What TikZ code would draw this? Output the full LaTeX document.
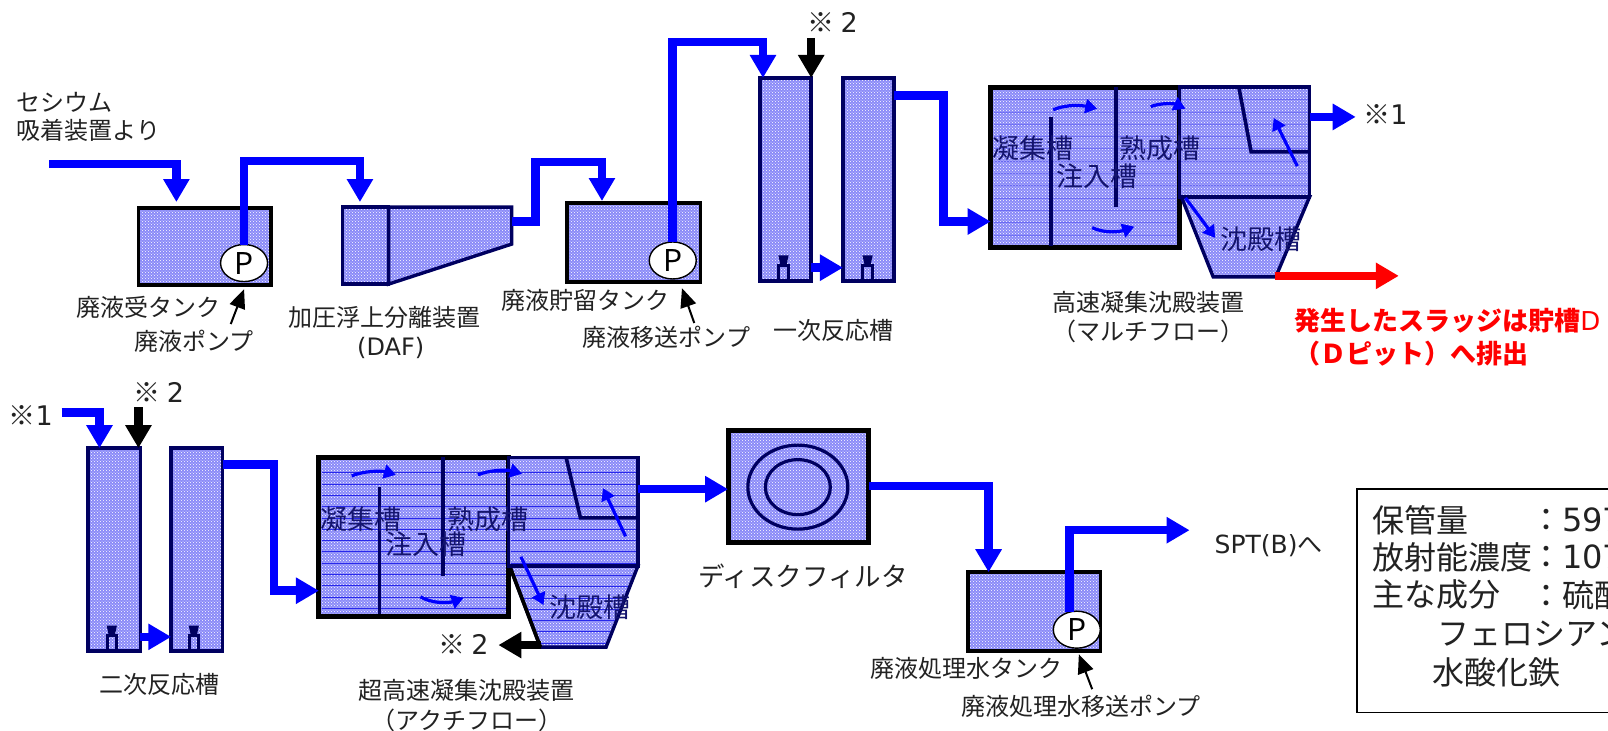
\documentclass[tikz,border=0pt]{standalone}
\usepackage{fontspec}
\setmainfont{Noto Sans CJK JP}
\newfontfamily\lat{DejaVu Sans}
\usetikzlibrary{arrows.meta,fit,shapes.geometric,calc,patterns}
\newcommand{\fs}[1]{\fontsize{#1}{#1}\selectfont}
\definecolor{liq}{RGB}{138,138,248}
\definecolor{navy}{RGB}{0,0,96}
\definecolor{tx}{RGB}{34,34,34}
\definecolor{inktx}{RGB}{20,20,110}
\definecolor{hline}{RGB}{40,40,235}
\tikzset{
  dith/.style={preaction={fill=liq},pattern=crosshatch dots,pattern color=white},
  tank/.style={draw=black,dith,line width=3.6pt,inner sep=0pt,outer sep=0pt,rectangle},
  navytank/.style={tank,draw=navy},
  bigtank/.style={tank,line width=5pt},
  pumpnode/.style={ellipse,draw=black,fill=white,line width=1.4pt,minimum width=47pt,minimum height=37pt,inner sep=0pt,outer sep=0pt,font=\fs{30}},
  pipe/.style={draw=blue,line width=8.5pt,-{Triangle[length=23pt,width=25pt]},miter limit=10},
  blackpipe/.style={draw=black,line width=8.5pt,-{Triangle[length=23pt,width=25pt]}},
  redpipe/.style={draw=red,line width=8.5pt,-{Triangle[length=23pt,width=25pt]}},
  inner/.style={draw=blue,line width=3.2pt,-{Triangle[length=12pt,width=14pt]}},
  lead/.style={draw=black,line width=2pt,-{Triangle[length=19pt,width=16pt]}},
  baffle/.style={draw=navy,line width=3.6pt},
  wall/.style={draw=navy,line width=3.4pt,dith},
  lab/.style={font=\fs{24},text=tx,inner sep=0pt},
  inlab/.style={font=\fs{27},text=inktx,inner sep=0pt},
  refmark/.style={font=\fs{27},text=tx,inner sep=0pt},
  info/.style={font=\fs{32},text=tx,inner sep=0pt,anchor=west},
  redlab/.style={font=\bfseries\fs{26},text=red,inner sep=0pt,anchor=west},
  ring/.style={ellipse,draw=navy,line width=3.2pt,inner sep=0pt},
}
\newcommand{\mixer}[2]{%
  \fill[navy] (#1-5,#2-13) -- (#1+5,#2-13) -- (#1+3,#2-4) -- (#1-3,#2-4) -- cycle;
  \draw[navy,line width=3pt] (#1-4.5,#2+11) -- (#1-4.5,#2-3) -- (#1+4.5,#2-3) -- (#1+4.5,#2+11);
}
\begin{document}
\begin{tikzpicture}[x=1.0255pt,y=-1.0255pt]
\useasboundingbox (0,0) rectangle (1568,712);
\clip (0,0) rectangle (1568,712);
% --- row 1 tanks
\node[tank,fit={(135,203)(264,278)}] (t1) {};
\node[pumpnode] (p1) at (238,256.5) {P};
\node[navytank,fit={(334,202)(379,277)}] (dafa) {};
\draw[wall,line join=miter] (379,202) -- (499,202) -- (499,238) -- (379,277) -- cycle;
\coordinate (dafout) at (499,216);
\node[tank,fit={(553,198)(683,275)}] (t2) {};
\node[pumpnode] (p2) at (656,254) {P};
\node[navytank,fit={(741,76)(791,274)}] (r1) {};
\node[navytank,fit={(822,76)(872,274)}] (r2) {};
\mixer{764}{262}\mixer{846}{262}
% multiflow
\node[bigtank,fit={(966,85)(1150,241)}] (mf) {};
\foreach \yy in {97,109,...,238}{\draw[hline,opacity=.35,line width=.5pt] (969,\yy) -- (1147,\yy);}
\draw[baffle] (1025,114) -- (1025,240);
\draw[baffle] (1088,85) -- (1088,202);
\draw[wall] (1152,192) -- (1277,192) -- (1244,270) -- (1183,270) -- cycle;
\node[navytank,fit={(1150,85)(1277,192)}] (mfr) {};
\foreach \yy in {97,109,...,190}{\draw[hline,opacity=.35,line width=.5pt] (1152,\yy) -- (1275,\yy);}
\draw[baffle] (1208,85) -- (1220,148) -- (1277,148);
\draw[inner] (1027,107) .. controls (1042,101) and (1056,103) .. (1070,106);
\draw[inner] (1122,104) .. controls (1132,100) and (1145,101) .. (1156,106);
\draw[inner] (1065,222) .. controls (1078,228) and (1092,226) .. (1106,221);
\draw[inner] (1265,162) -- (1242,115);
\draw[inner] (1156,193) -- (1185,232);
% --- row 2 tanks
\node[navytank,fit={(86,437)(137,635)}] (r3) {};
\node[navytank,fit={(167,437)(217,635)}] (r4) {};
\mixer{109}{623}\mixer{189}{623}
\node[bigtank,fit={(311,446)(496,601)}] (af) {};
\foreach \yy in {461,472,...,598}{\draw[hline,line width=.7pt] (314,\yy) -- (493,\yy);}
\draw[baffle] (370,475) -- (370,599);
\draw[baffle] (432,446) -- (432,562);
\draw[wall] (497,552) -- (622,552) -- (591,631) -- (527,631) -- cycle;
\draw[black,line width=3.6pt] (497,552) -- (527,631);
\node[navytank,fit={(496,446)(622,552)}] (afr) {};
\foreach \yy in {461,472,...,550}{\draw[hline,line width=.7pt] (498,\yy) -- (620,\yy);}
\foreach \yy in {561,572,...,628}{\draw[hline,line width=.7pt] ({499+(\yy-552)*.38},\yy) -- ({620-(\yy-552)*.39},\yy);}
\draw[baffle] (552,446) -- (566,505) -- (622,505);
\draw[inner] (343,464) .. controls (355,459) and (372,459) .. (386,463);
\draw[inner] (466,463) .. controls (478,458) and (495,458) .. (509,462);
\draw[inner] (410,582) .. controls (422,589) and (438,588) .. (452,583);
\draw[inner] (610,523) -- (588,476);
\draw[inner] (508,543) -- (530,590);
\node[tank,line width=5pt,fit={(710,420)(847,529)}] (df) {};
\node[ring,minimum width=100pt,minimum height=84pt] (ring1) at (778,475) {};
\node[ring,minimum width=65pt,minimum height=55pt] (ring2) at (778,475) {};
\node[tank,fit={(944,558)(1073,635)}] (t3) {};
\node[pumpnode] (p3) at (1050,614) {P};
% --- pipes row 1
\coordinate (in1) at (48,160);
\coordinate (e1) at (172,160);
\coordinate (e1a) at (172,197);
\draw[pipe] (in1) -- (e1) -- (e1a);
\coordinate (e2) at (238,157);
\coordinate (e3) at (351,157);
\coordinate (e3a) at (351,197);
\draw[pipe] (p1.north) -- (e2) -- (e3) -- (e3a);
\coordinate (e4) at (522,216);
\coordinate (e5) at (522,158);
\coordinate (e6) at (587,158);
\coordinate (e6a) at (587,196);
\draw[pipe] (dafout) -- (e4) -- (e5) -- (e6) -- (e6a);
\coordinate (e7) at (656,41);
\coordinate (e8) at (744,41);
\draw[pipe] (p2.north) -- (e7) -- (e8) -- (r1.north -| e8);
\coordinate (b1) at (791,37);
\draw[blackpipe] (b1) -- (r1.north east);
\coordinate (c1) at (791,261);
\draw[pipe] (c1) -- (r2.west |- c1);
\coordinate (e9) at (920,93);
\coordinate (e10) at (920,216);
\draw[pipe] (r2.east |- e9) -- (e9) -- (e10) -- (mf.west |- e10);
\coordinate (o1) at (1322,114);
\draw[pipe] (mfr.east |- o1) -- (o1);
\coordinate (o2) at (1364,269);
\coordinate (o3) at (1243,269);
\draw[redpipe] (o3) -- (o2);
% --- pipes row 2
\coordinate (f1) at (60,402);
\coordinate (f2) at (97,402);
\draw[pipe] (f1) -- (f2) -- (r3.north -| f2);
\coordinate (b2) at (135,397);
\draw[blackpipe] (b2) -- (r3.north -| b2);
\coordinate (c2) at (137,621);
\draw[pipe] (c2) -- (r4.west |- c2);
\coordinate (f3) at (267,453);
\coordinate (f4) at (267,576);
\draw[pipe] (r4.east |- f3) -- (f3) -- (f4) -- (af.west |- f4);
\coordinate (f5) at (622,477);
\draw[pipe] (f5) -- (df.west |- f5);
\coordinate (g1) at (964,474);
\draw[pipe] (df.east |- g1) -- (g1) -- (t3.north -| g1);
\coordinate (g2) at (1043,517);
\coordinate (g3) at (1160,517);
\coordinate (g4) at (1043,597);
\draw[pipe] (g4) -- (g2) -- (g3);
\coordinate (b3) at (486,629);
\coordinate (b4) at (528,629);
\draw[blackpipe] (b4) -- (b3);
% --- leader arrows
\coordinate (l1) at (225,316);
\coordinate (l1t) at (238,282);
\coordinate (l2) at (677,315);
\coordinate (l2t) at (665,281);
\coordinate (l3) at (1065,672);
\coordinate (l3t) at (1052,638);
\draw[lead] (l1) -- (l1t);
\draw[lead] (l2) -- (l2t);
\draw[lead] (l3) -- (l3t);
% --- labels
\node[lab,anchor=west] (s1) at (16,100) {セシウム};
\node[lab,anchor=west] (s2) at (16,127) {吸着装置より};
\node[lab] (s3) at (145,300) {廃液受タンク};
\node[lab] (s4) at (189,333) {廃液ポンプ};
\node[lab] (s5) at (375,310) {加圧浮上分離装置};
\node[lab] (s6) at (381,339) {\lat (DAF)};
\node[lab] (s7) at (571,293) {廃液貯留タンク};
\node[lab] (s8) at (650,329) {廃液移送ポンプ};
\node[lab] (s9) at (813,322) {一次反応槽};
\node[refmark] (m1) at (812,22) {※ {\lat 2}};
\node[refmark] (m2) at (1351,112) {※{\lat 1}};
\node[inlab] (a1) at (1007,145) {凝集槽};
\node[inlab] (a2) at (1070,172) {注入槽};
\node[inlab] (a3) at (1131,145) {熟成槽};
\node[inlab] (a4) at (1230,233) {沈殿槽};
\node[lab] (s10) at (1120,295) {高速凝集沈殿装置};
\node[lab] (s11) at (1120,323) {（マルチフロー）};
\node[redlab] (red1) at (1262,313) {発生したスラッジは貯槽{\mdseries\lat D}};
\node[redlab] (red2) at (1262,345) {（Ｄピット）へ排出};
\node[refmark] (m3) at (30,405) {※{\lat 1}};
\node[refmark] (m4) at (155,383) {※ {\lat 2}};
\node[inlab] (b1t) at (352,506) {凝集槽};
\node[inlab] (b2t) at (415,531) {注入槽};
\node[inlab] (b3t) at (476,506) {熟成槽};
\node[inlab] (b4t) at (575,592) {沈殿槽};
\node[refmark] (m5) at (452,628) {※ {\lat 2}};
\node[lab] (s12) at (156,667) {二次反応槽};
\node[lab] (s13) at (455,673) {超高速凝集沈殿装置};
\node[lab] (s14) at (455,702) {（アクチフロー）};
\node[lab,font=\fs{26.5}] (s15) at (783,562) {ディスクフィルタ};
\node[lab] (s16) at (942,652) {廃液処理水タンク};
\node[lab] (s17) at (1054,689) {廃液処理水移送ポンプ};
\node[lab,font=\lat\fs{25}] (s18) at (1237,532) {SPT(B){\fontspec{Noto Sans CJK JP}へ}};
% --- info box
\node[draw=black,line width=1.5pt,inner sep=0pt,fit={(1323,477)(1600,695)}] (box) {};
\node[info] (i1) at (1338,507) {保管量};
\node[info] (i1b) at (1492,507) {：{\lat 597}};
\node[info] (i2) at (1338,543) {放射能濃度};
\node[info] (i2b) at (1492,543) {：{\lat 107}};
\node[info] (i3) at (1338,580) {主な成分};
\node[info] (i3b) at (1492,580) {：硫酸};
\node[info] (i4) at (1402,618) {フェロシアン};
\node[info] (i5) at (1397,656) {水酸化鉄};
\end{tikzpicture}
\end{document}
